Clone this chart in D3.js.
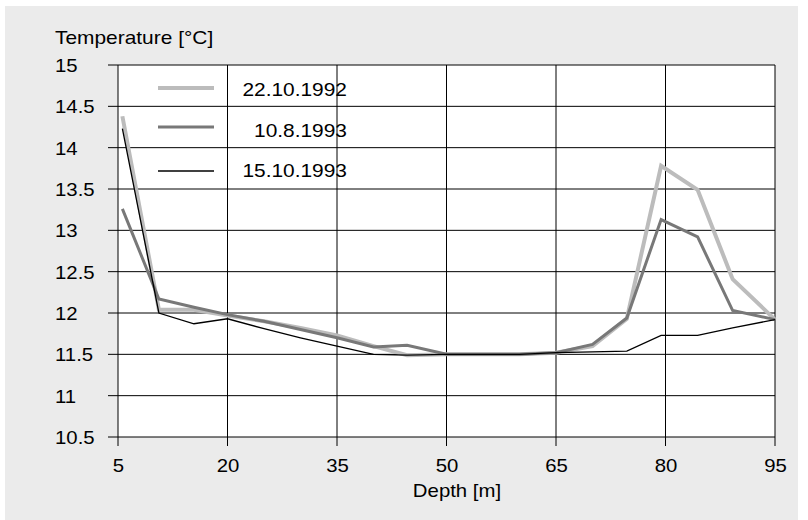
<!DOCTYPE html>
<html><head><meta charset="utf-8">
<script src="https://cdn.jsdelivr.net/npm/d3@7"></script>
<style>
html,body{margin:0;padding:0;background:#fff;}
text{font-family:"Liberation Sans",Arial,sans-serif;fill:#000;}
</style></head>
<body><svg id="c" width="808" height="520"></svg>
<script>
const depths = [5.6, 10.6, 15.4, 20, 25, 30, 35, 40, 44.6, 50, 55, 60, 65, 70, 74.7, 79.4, 84.4, 89.2, 95];
const series1992 = [14.38, 12.04, 12.04, 11.97, 11.9, 11.82, 11.73, 11.6, 11.49, 11.5, 11.5, 11.5, 11.52, 11.6, 11.93, 13.78, 13.49, 12.41, 11.92];
const series1993a = [13.26, 12.17, 12.07, 11.98, 11.9, 11.8, 11.7, 11.59, 11.61, 11.5, 11.5, 11.5, 11.52, 11.62, 11.94, 13.13, 12.92, 12.03, 11.92];
const series1993b = [14.23, 12.0, 11.87, 11.93, 11.81, 11.7, 11.6, 11.5, 11.49, 11.5, 11.5, 11.5, 11.52, 11.53, 11.54, 11.73, 11.73, 11.82, 11.92];
const seriesNames = ["22.10.1992", "10.8.1993", "15.10.1993"];
const xTicks = [5, 20, 35, 50, 65, 80, 95];
const yTicks = [10.5, 11, 11.5, 12, 12.5, 13, 13.5, 14, 14.5, 15];

const svg = d3.select("#c");
svg.append("rect").attr("x",5).attr("y",6).attr("width",793).attr("height",514).attr("fill","#ebebeb");

const L=118, R=775, T=65, B=437;
const x = d3.scaleLinear().domain([5,95]).range([L,R]);
const y = d3.scaleLinear().domain([10.5,15]).range([B,T]);

svg.append("rect").attr("x",L).attr("y",T).attr("width",R-L).attr("height",B-T).attr("fill","#fff");

const grid = svg.append("g").attr("stroke","#000").attr("stroke-width",1);
yTicks.forEach(v=>{
  grid.append("line").attr("x1",L-10).attr("x2",R).attr("y1",y(v)).attr("y2",y(v));
});
xTicks.forEach(v=>{
  grid.append("line").attr("x1",x(v)).attr("x2",x(v)).attr("y1",T).attr("y2",B+9);
});

function stretch(sel){
  sel.each(function(){
    const w = this.getComputedTextLength();
    d3.select(this).attr("textLength", w*1.1).attr("lengthAdjust","spacingAndGlyphs");
  });
}

const yAxis = d3.axisLeft(y).tickValues(yTicks).tickFormat(d3.format("")).tickSize(0);
const gy = svg.append("g").attr("transform",`translate(${L},0)`).call(yAxis);
gy.select(".domain").remove();
gy.attr("font-size",null).attr("font-family",null);
gy.selectAll("text").attr("x",55-L).attr("dy",null).attr("y",6.5).attr("text-anchor","start")
  .style("font-size","18.5px").attr("fill","#000").call(stretch);

const xAxis = d3.axisBottom(x).tickValues(xTicks).tickFormat(d3.format("")).tickSize(0);
const gx = svg.append("g").attr("transform",`translate(0,${B})`).call(xAxis);
gx.select(".domain").remove();
gx.attr("font-size",null).attr("font-family",null);
gx.selectAll("text").attr("y",35).attr("dy",null)
  .style("font-size","18.5px").attr("fill","#000").call(stretch);

svg.append("text").attr("x",55).attr("y",44).style("font-size","19px").text("Temperature [°C]").call(stretch);
svg.append("text").attr("x",457).attr("y",497).attr("text-anchor","middle").style("font-size","18.5px").text("Depth [m]").call(stretch);

const styles = [
  {color:"#bcbcbc", w:4},
  {color:"#787878", w:3},
  {color:"#000", w:1.3}
];
const allSeries = [series1992, series1993a, series1993b];
const line = d3.line().x((d,i)=>x(depths[i])).y(d=>y(d));
allSeries.forEach((s,k)=>{
  svg.append("path").datum(s).attr("d",line).attr("fill","none")
    .attr("stroke",styles[k].color).attr("stroke-width",styles[k].w).attr("stroke-linejoin","miter");
});

const legY = [88, 127, 171];
const legTextY = [96, 137, 177];
seriesNames.forEach((n,k)=>{
  svg.append("line").attr("x1",158).attr("x2",214).attr("y1",legY[k]).attr("y2",legY[k])
    .attr("stroke",styles[k].color).attr("stroke-width",styles[k].w);
  svg.append("text").attr("x",347).attr("y",legTextY[k]).attr("text-anchor","end").style("font-size","19px").text(n).call(stretch);
});
</script></body></html>
